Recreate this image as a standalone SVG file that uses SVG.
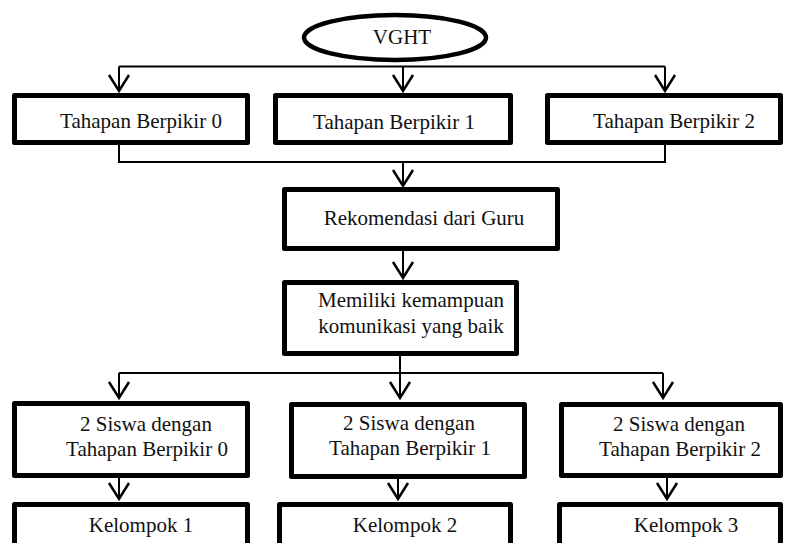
<svg xmlns="http://www.w3.org/2000/svg" width="785" height="543" viewBox="0 0 785 543">
<style>
.box{fill:#fff;stroke:#000;stroke-width:5;stroke-linejoin:round}
.t{font-family:"Liberation Serif","Times New Roman",serif;font-size:21px;fill:#111;text-anchor:middle}
.ln{fill:none;stroke:#000;stroke-width:2}
.ar{fill:none;stroke:#000;stroke-width:2;marker-end:url(#arr)}
</style>
<defs>
<marker id="arr" markerUnits="userSpaceOnUse" viewBox="-18 -12 20 24" refX="0" refY="0" markerWidth="20" markerHeight="24" orient="auto" overflow="visible">
<path d="M-16,-10 L0,0 L-16,10" fill="none" stroke="#000" stroke-width="2.5"/>
</marker>
</defs>
<g id="connectors">
<path class="ln" d="M119,66.5 H665"/>
<path class="ar" d="M119,66.5 V91"/>
<path class="ar" d="M403,66.5 V91"/>
<path class="ar" d="M665,66.5 V91"/>
<path class="ln" d="M119,145 V162 H665 V145"/>
<path class="ar" d="M403,162 V186"/>
<path class="ar" d="M403,251 V278"/>
<path class="ln" d="M400,356 V373"/>
<path class="ln" d="M119,373 H663"/>
<path class="ar" d="M119,373 V398"/>
<path class="ar" d="M400,373 V398"/>
<path class="ar" d="M663,373 V398"/>
<path class="ar" d="M119,478 V499"/>
<path class="ar" d="M398,479 V499"/>
<path class="ar" d="M667,478 V499"/>
</g>
<g id="vght">
<ellipse cx="395" cy="37.5" rx="91" ry="22.5" fill="#fff" stroke="#000" stroke-width="4.5"/>
<text class="t" x="402" y="44">VGHT</text>
</g>
<g id="tb0">
<rect class="box" x="14.5" y="95.5" width="233" height="47"/>
<text class="t" x="141" y="128">Tahapan Berpikir 0</text>
</g>
<g id="tb1">
<rect class="box" x="275.5" y="95.5" width="235" height="47"/>
<text class="t" x="394" y="129">Tahapan Berpikir 1</text>
</g>
<g id="tb2">
<rect class="box" x="547.5" y="95.5" width="233" height="47"/>
<text class="t" x="674" y="128">Tahapan Berpikir 2</text>
</g>
<g id="rekomendasi">
<rect class="box" x="284.5" y="189.5" width="273" height="59"/>
<text class="t" x="424" y="225">Rekomendasi dari Guru</text>
</g>
<g id="memiliki">
<rect class="box" x="284.5" y="282.5" width="232" height="71"/>
<text class="t" x="411" y="307">Memiliki kemampuan</text>
<text class="t" x="411" y="333">komunikasi yang baik</text>
</g>
<g id="siswa0">
<rect class="box" x="14.5" y="403.5" width="233" height="72"/>
<text class="t" x="146" y="431">2 Siswa dengan</text>
<text class="t" x="147" y="456">Tahapan Berpikir 0</text>
</g>
<g id="siswa1">
<rect class="box" x="291.5" y="404.5" width="233" height="72"/>
<text class="t" x="409" y="430">2 Siswa dengan</text>
<text class="t" x="410" y="455">Tahapan Berpikir 1</text>
</g>
<g id="siswa2">
<rect class="box" x="561.5" y="404.5" width="219" height="71"/>
<text class="t" x="679" y="431">2 Siswa dengan</text>
<text class="t" x="680" y="456">Tahapan Berpikir 2</text>
</g>
<g id="kelompok1">
<rect class="box" x="14.5" y="504.5" width="233" height="60"/>
<text class="t" x="141" y="532">Kelompok 1</text>
</g>
<g id="kelompok2">
<rect class="box" x="279.5" y="504.5" width="231" height="60"/>
<text class="t" x="405" y="532">Kelompok 2</text>
</g>
<g id="kelompok3">
<rect class="box" x="559.5" y="504.5" width="221" height="60"/>
<text class="t" x="686" y="532">Kelompok 3</text>
</g>
</svg>
